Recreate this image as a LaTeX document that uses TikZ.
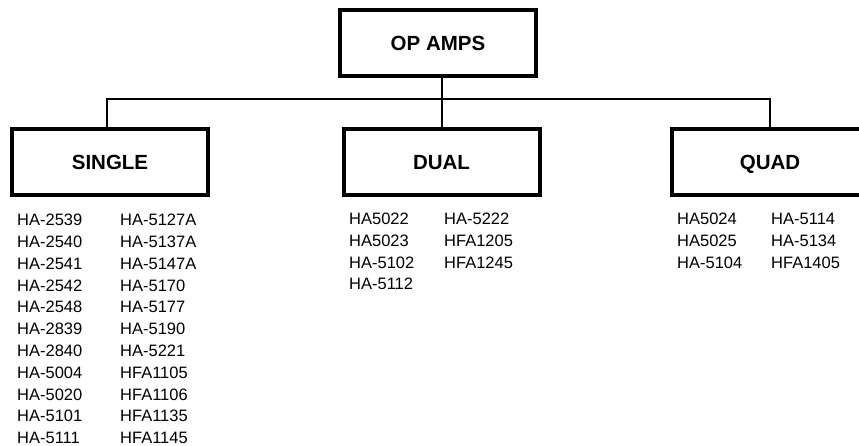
\documentclass[tikz,border=0pt]{standalone}
\usepackage{fontspec}
\setmainfont{Liberation Sans}
\usetikzlibrary{positioning}

\tikzset{
	box/.style={draw, line width=4pt, minimum width=196pt, minimum height=66pt, inner sep=0pt, text height=15pt, text depth=0pt, font=\fontsize{20.5}{24}\selectfont\bfseries},
	part/.style={anchor=west, inner sep=0pt, font=\fontsize{16.5}{20}\selectfont},
	wire/.style={line width=2pt}
}

\begin{document}
\begin{tikzpicture}[x=1pt, y=-1pt]
		\useasboundingbox (0,0) rectangle (859,446);
		\clip (0,0) rectangle (859,446);
		
		%Boxes
		\node[box] (root) at (438,43.5) {OP AMPS};
		\node[box] (single) at (110,162) {SINGLE};
		\node[box] (dual) at (441.5,162) {DUAL};
		\node[box] (quad) at (770,162) {QUAD};
		
		%Connectors
		\coordinate (bus) at (442,99);
		\draw[wire] (root.south -| bus) -- (dual.north -| bus);
		\draw[wire] (single.north -| 107,0) |- (bus) -| (quad.north);
		
		%Single list
		\foreach \name [count=\i] in {HA-2539,HA-2540,HA-2541,HA-2542,HA-2548,HA-2839,HA-2840,HA-5004,HA-5020,HA-5101,HA-5111}
			\node[part] (sa\i) at (17,220+21.8*\i-21.8) {\name};
		\foreach \name [count=\i] in {HA-5127A,HA-5137A,HA-5147A,HA-5170,HA-5177,HA-5190,HA-5221,HFA1105,HFA1106,HFA1135,HFA1145}
			\node[part] (sb\i) at (120,220+21.8*\i-21.8) {\name};
		
		%Dual list
		\foreach \name [count=\i] in {HA5022,HA5023,HA-5102,HA-5112}
			\node[part] (da\i) at (349,219+21.7*\i-21.7) {\name};
		\foreach \name [count=\i] in {HA-5222,HFA1205,HFA1245}
			\node[part] (db\i) at (444,219+21.7*\i-21.7) {\name};
		
		%Quad list
		\foreach \name [count=\i] in {HA5024,HA5025,HA-5104}
			\node[part] (qa\i) at (677,219+21.7*\i-21.7) {\name};
		\foreach \name [count=\i] in {HA-5114,HA-5134,HFA1405}
			\node[part] (qb\i) at (771,219+21.7*\i-21.7) {\name};
		
\end{tikzpicture}
\end{document}
